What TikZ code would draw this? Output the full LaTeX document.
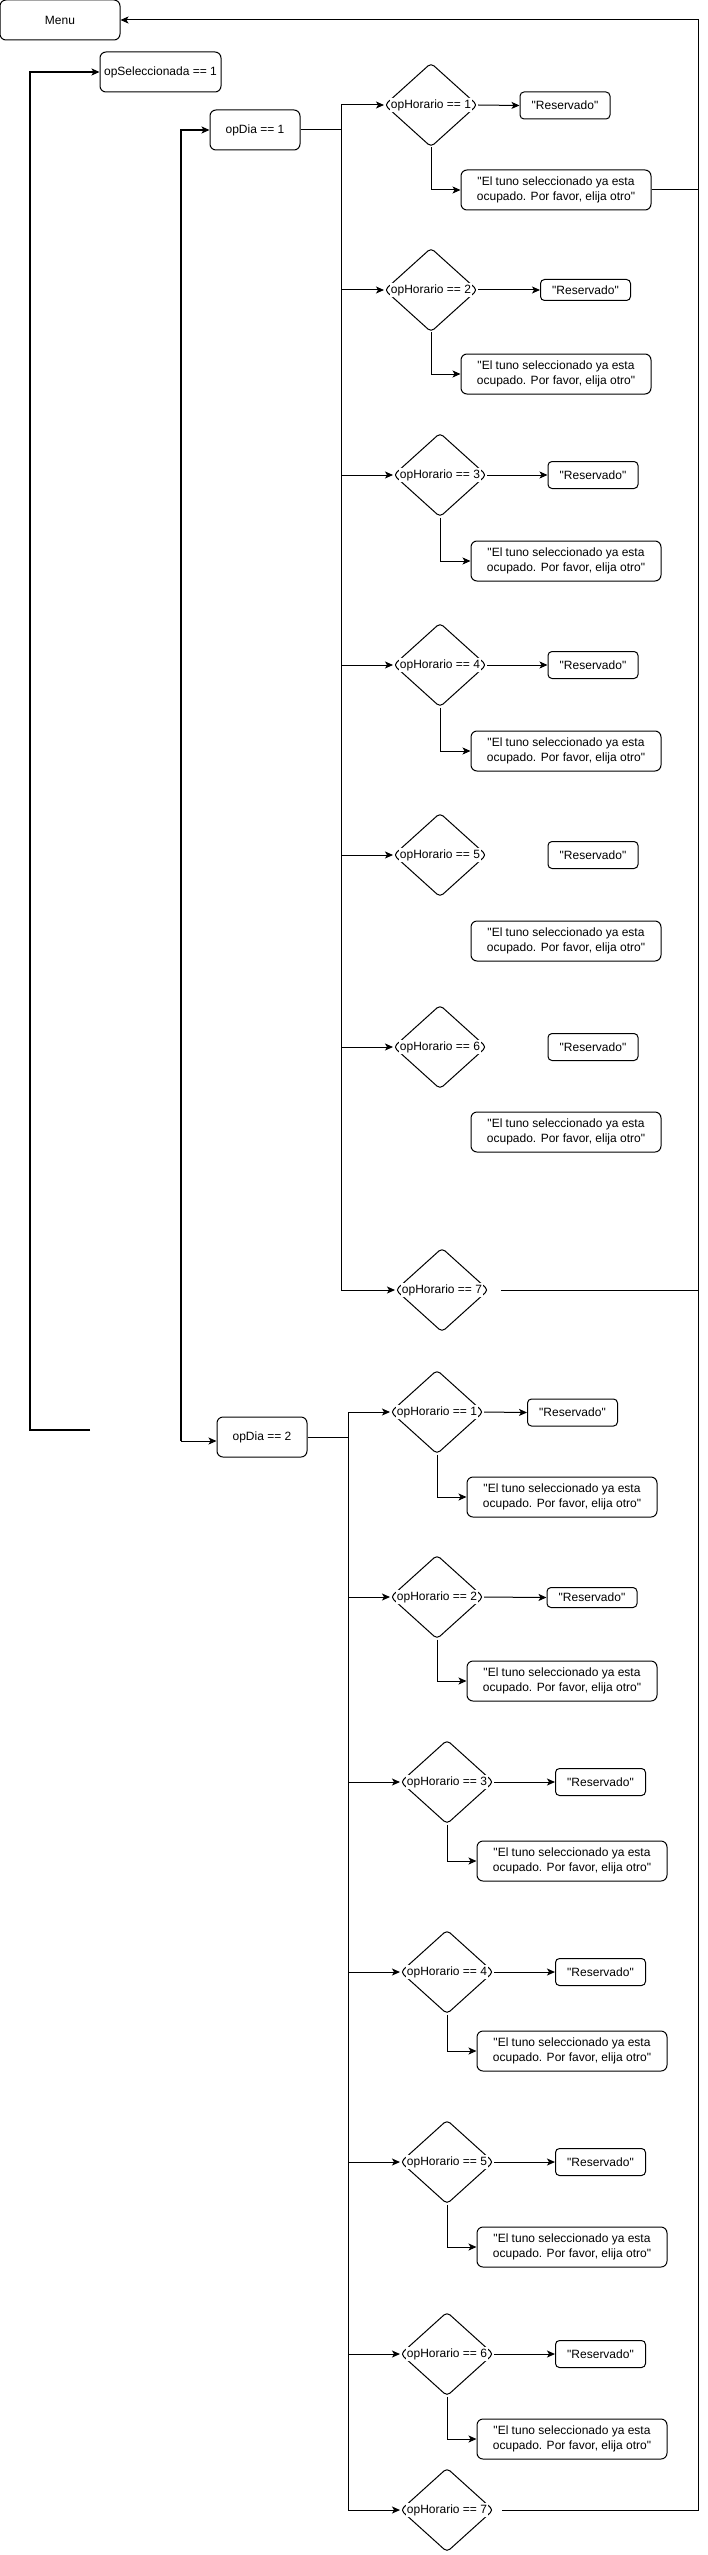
\documentclass[tikz,border=0pt]{standalone}
\usepackage{fontspec}
\setmainfont{Liberation Sans}[Ligatures=TeXOff]
\usetikzlibrary{shapes.geometric,arrows.meta}
\tikzset{
  txt/.style={font=\fontsize{12}{14.5}\selectfont},
  box/.style={txt, draw, rounded corners=6pt, line width=1pt, inner sep=0pt, align=center},
  bigbox/.style={box, minimum width=190pt, minimum height=40pt},
  resbox/.style={box, rounded corners=4pt, minimum width=90pt, minimum height=27pt},
  dia/.style={draw, diamond, rounded corners=4pt, line width=1pt, minimum width=93pt, minimum height=84pt, inner sep=0pt},
  lbl/.style={txt, fill=white, inner sep=1pt},
  tip/.style={-{Stealth[length=8pt,width=7pt,inset=2pt]}},
  ln/.style={line width=1pt, line join=miter},
  arr/.style={ln, tip},
  thk/.style={line width=2pt, line join=miter},
}
\begin{document}
\begin{tikzpicture}[x=1pt,y=-1pt]
\useasboundingbox (0,0) rectangle (708,2555);

% top-left nodes
\node[box, minimum width=120pt, minimum height=40pt] (menu) at (60,20) {Menu};
\node[box, minimum width=121pt, minimum height=40pt] (opsel) at (160.5,72) {opSeleccionada == 1};
\node[box, minimum width=90pt, minimum height=40pt] (opdia1) at (255,130) {opDia == 1};
\node[box, minimum width=90pt, minimum height=40pt] (opdia2) at (262,1437) {opDia == 2};

% day 1
\foreach \i/\x/\y in {1/431/105, 2/431/290, 3/440/475, 4/440/665, 5/440/855, 6/440/1047, 7/442/1290}
  \node[dia, label={[lbl]center:opHorario == \i}] (D\i) at (\x,\y) {};
\foreach \i/\x/\y in {1/565/105.5, 3/593/475, 4/593/665, 5/593/855, 6/593/1047}
  \node[resbox] (R\i) at (\x,\y) {"Reservado"};
\node[resbox, minimum height=21pt] (R2) at (585.5,290) {"Reservado"};
\foreach \i/\x/\y in {1/556/190, 2/556/374, 3/566/561, 4/566/751, 5/566/941, 6/566/1132}
  \node[bigbox] (E\i) at (\x,\y) {"El tuno seleccionado ya esta\\ocupado. Por favor, elija otro"};

% day 2
\foreach \i/\x/\y in {1/437/1412, 2/437/1597, 3/447/1782, 4/447/1972, 5/447/2162, 6/447/2354, 7/447/2510}
  \node[dia, label={[lbl]center:opHorario == \i}] (F\i) at (\x,\y) {};
\foreach \i/\x/\y in {1/572.5/1412.5, 3/600.5/1782, 4/600.5/1972, 5/600.5/2162, 6/600.5/2354}
  \node[resbox] (S\i) at (\x,\y) {"Reservado"};
\node[resbox, minimum height=20pt] (S2) at (592,1597.5) {"Reservado"};
\foreach \i/\x/\y in {1/562/1497, 2/562/1681, 3/572/1861, 4/572/2051, 5/572/2247, 6/572/2439}
  \node[bigbox] (T\i) at (\x,\y) {"El tuno seleccionado ya esta\\ocupado. Por favor, elija otro"};

% left thick connectors
\coordinate (a0) at (90,1430);
\coordinate (a1) at (30,1430);
\draw[thk, tip] (a0) -- (a1) |- (opsel.west);
\coordinate (b0) at (181,1441);
\draw[thk, tip] (b0) |- (opdia1.west);
\draw[arr] (b0) -- (opdia2.west |- b0);

% day 1 bus
\coordinate (b1) at (341,130);
\draw[ln] (opdia1.east) -- (b1);
\draw[ln] (b1 |- D1) -- (b1 |- D7);
\foreach \i in {1,...,7}
  \draw[arr] (b1 |- D\i) -- (D\i.west);
\foreach \i in {1,...,4}{
  \draw[arr] (D\i.east) -- (R\i.west);
  \draw[arr] (D\i.south) |- (E\i.west);
}

% day 2 bus
\coordinate (b2) at (348,1437);
\draw[ln] (opdia2.east) -- (b2);
\draw[ln] (b2 |- F1) -- (b2 |- F7);
\foreach \i in {1,...,7}
  \draw[arr] (b2 |- F\i) -- (F\i.west);
\foreach \i in {1,...,6}{
  \draw[arr] (F\i.east) -- (S\i.west);
  \draw[arr] (F\i.south) |- (T\i.west);
}

% return line to Menu
\coordinate (rt) at (698,20);
\draw[arr] ([xshift=8pt]F7.east) -- (rt |- F7.east) -- (rt) -- (menu.east);
\draw[ln] ([xshift=12pt]D7.east) -- (rt |- D7.east);
\draw[ln] (E1.east) -- (rt |- E1.east);
\end{tikzpicture}
\end{document}
